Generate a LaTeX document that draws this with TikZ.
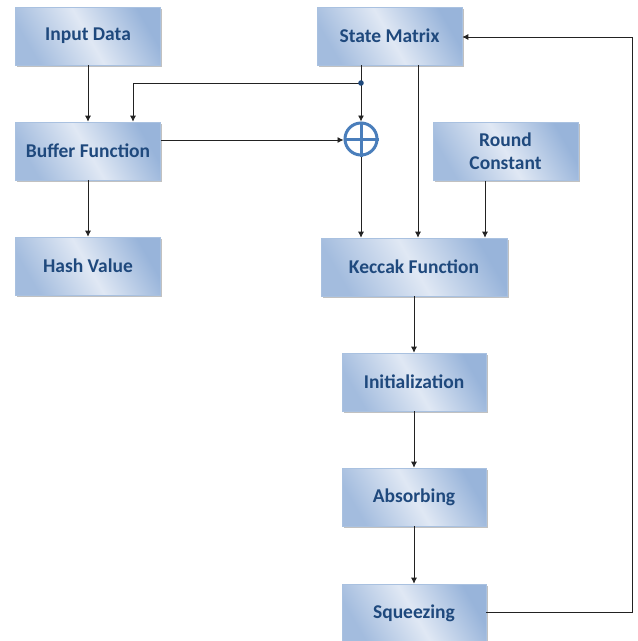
\documentclass[tikz,border=0pt]{standalone}
\usepackage{fontspec}
\setmainfont{Carlito}
\usetikzlibrary{arrows.meta,shadows}
\definecolor{boxdark}{HTML}{98B4DA}
\definecolor{boxlight}{HTML}{E0E8F4}
\definecolor{boxedge}{HTML}{A9C1E0}
\definecolor{txtblue}{HTML}{1F497D}
\definecolor{xorblue}{HTML}{4A7EBB}
\definecolor{linegray}{HTML}{222222}
\tikzset{
  blk/.style={draw=boxedge, line width=0.6pt, left color=boxdark!85!boxlight, right color=boxdark, middle color=boxlight, shading angle=120,
    minimum width=145pt, minimum height=58pt, inner sep=2pt, align=center,
    font=\fontsize{19.5}{23}\selectfont\bfseries, text=txtblue,
    drop shadow={shadow xshift=1.5pt, shadow yshift=-1.5pt, fill=gray!60, opacity=0.8}},
  conn/.style={draw=linegray, line width=0.8pt},
  arr/.style={conn, -{Latex[length=6pt,width=6pt]}},
  xorc/.style={circle, draw=xorblue, line width=3pt, fill=white, minimum size=32pt, inner sep=0pt},
}
\begin{document}
\begin{tikzpicture}[x=1pt,y=-1pt]
\useasboundingbox (0,0) rectangle (638,641);
\node[blk] (input) at (88,36) {Input Data};
\node[blk] (buffer) at (88,151) {Buffer Function};
\node[blk] (hash) at (88,266) {Hash Value};
\node[blk] (state) at (389.5,36) {State Matrix};
\node[blk] (round) at (505.5,151.5) {Round\\Constant};
\node[blk, minimum width=186pt] (keccak) at (414,267) {Keccak Function};
\node[blk, minimum width=144pt] (init) at (414,382) {Initialization};
\node[blk, minimum width=144pt] (absorb) at (414,497) {Absorbing};
\node[blk, minimum width=144pt] (squeeze) at (414,613) {Squeezing};
\node[xorc] (xor) at (361,139) {};
\draw[xorblue, line width=3pt] (xor.north) -- (xor.south) (xor.west) -- (xor.east);
\coordinate (dot) at (361,83);
\coordinate (corner) at (133,83);
\coordinate (loopA) at (632,612);
\coordinate (loopB) at (632,37);
% connectors
\draw[arr] (input) -- (buffer);
\draw[arr] (buffer) -- (hash);
\draw[conn] (state.south -| dot) -- (dot);
\draw[arr] (dot) -- (xor.north);
\draw[arr] (dot) -- (corner) -- (buffer.north -| corner);
\draw[arr] (buffer.east |- 0,140) -- (xor.west |- 0,140);
\draw[arr] (xor.south) -- (keccak.north -| xor);
\draw[arr] (state.south -| 418,0) -- (keccak.north -| 418,0);
\draw[arr] (round.south -| 485,0) -- (keccak.north -| 485,0);
\draw[arr] (keccak) -- (init);
\draw[arr] (init) -- (absorb);
\draw[arr] (absorb) -- (squeeze);
\draw[arr] (squeeze.east |- loopA) -- (loopA) -- (loopB) -- (state.east |- loopB);
\fill[txtblue] (dot) circle (2.8pt);
\end{tikzpicture}
\end{document}
